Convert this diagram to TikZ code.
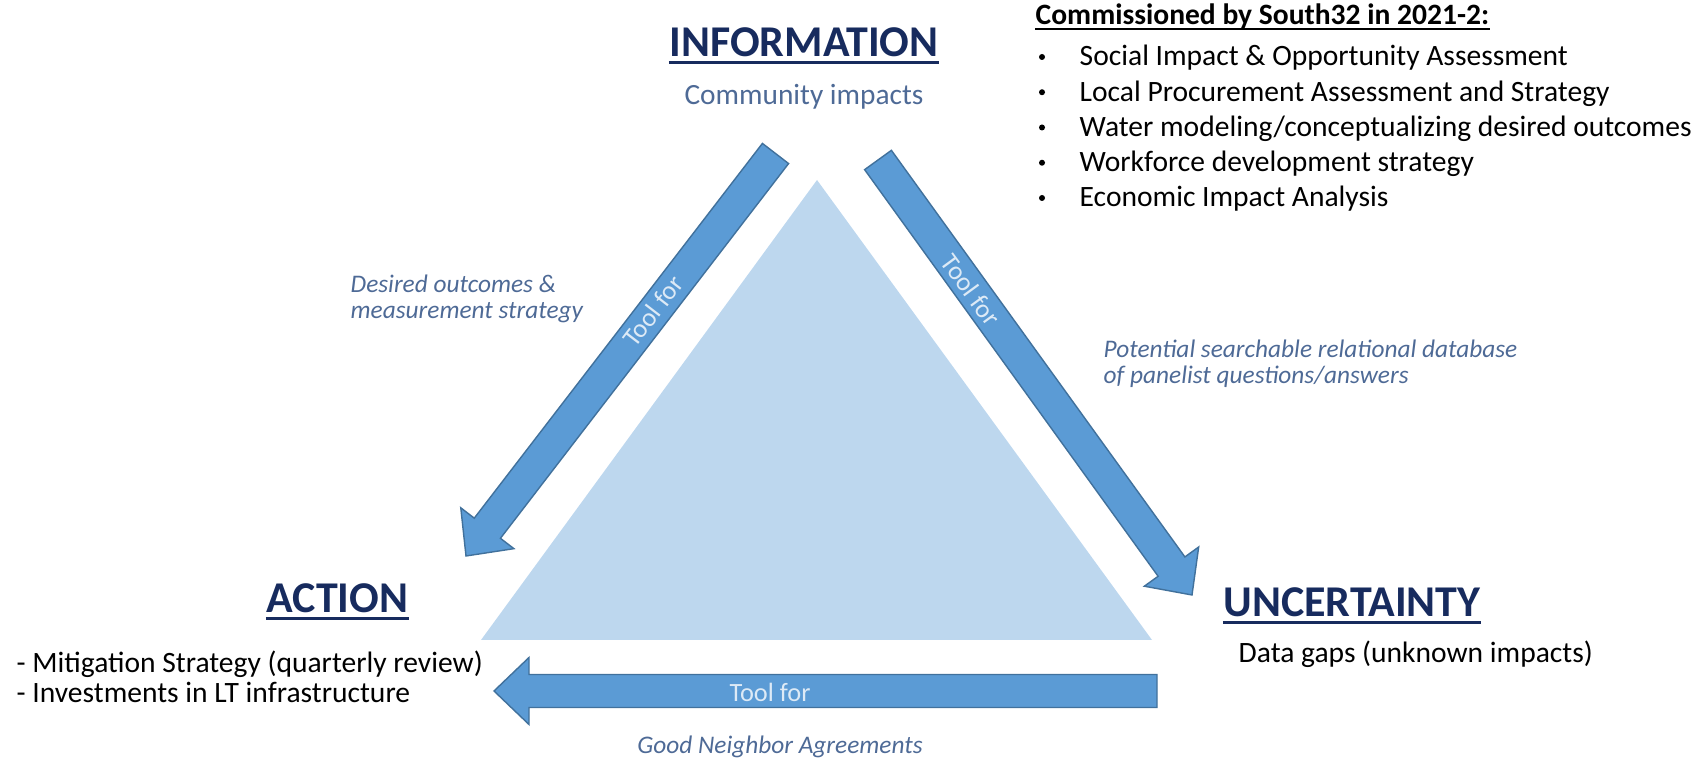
\documentclass[tikz,border=0pt]{standalone}
\usepackage{fontspec}
\setmainfont{Carlito}
\usetikzlibrary{calc}
\definecolor{navy}{HTML}{172B5E}
\definecolor{slate}{HTML}{4E6A96}
\definecolor{arrowblue}{HTML}{5B9BD5}
\definecolor{arrowedge}{HTML}{41719C}
\definecolor{triblue}{HTML}{BDD7EE}
\definecolor{paleblue}{HTML}{DDEAF6}
\tikzset{
  arrowbody/.style={fill=arrowblue, draw=arrowedge, line width=0.4pt},
  heading/.style={font=\fontsize{12.5}{15}\selectfont\bfseries, text=navy,
    anchor=base, inner sep=0pt},
  body/.style={font=\fontsize{8.4}{8.5}\selectfont, inner sep=0pt},
  note/.style={font=\fontsize{7.2}{7.5}\selectfont\itshape, text=slate,
    align=left, inner sep=0pt},
  toolfor/.style={font=\fontsize{7.5}{9}\selectfont, text=paleblue, inner sep=0pt},
  dotmark/.style={circle, fill=black, inner sep=0pt, minimum size=0.06cm}
}
% block arrow from the middle of its tail to its tip
\newcommand{\toolarrow}[2]{%
  \coordinate (#1h) at ($(#2)!\headl!(#1)$);
  \draw[arrowbody]
    ($(#1)!\shaftw!90:(#2)$) -- ($(#1h)!\shaftw!90:(#2)$)
    -- ($(#1h)!\headw!90:(#2)$) -- (#2)
    -- ($(#1h)!\headw!-90:(#2)$) -- ($(#1h)!\shaftw!-90:(#2)$)
    -- ($(#1)!\shaftw!-90:(#2)$) -- cycle;}
\begin{document}
\begin{tikzpicture}[x=0.01cm,y=-0.01cm]
  \useasboundingbox (0,0) rectangle (1706,762);
  \def\shaftw{0.165cm}
  \def\headw{0.335cm}
  \def\headl{0.35cm}
  % triangle
  \coordinate (apex) at (817,180);
  \coordinate (baseL) at (481,640);
  \coordinate (baseR) at (1152,640);
  \fill[triblue] (apex)--(baseL)--(baseR)--cycle;
  % arrows
  \coordinate (infoL) at (775.5,153.5);
  \coordinate (actTip) at (466,556);
  \coordinate (infoR) at (878,160);
  \coordinate (uncTip) at (1192,595);
  \coordinate (uncB) at (1157,691);
  \coordinate (actB) at (494,691);
  \toolarrow{infoL}{actTip}
  \toolarrow{infoR}{uncTip}
  \toolarrow{uncB}{actB}
  \node[toolfor, rotate=52.4] (toolL) at (653,311) {Tool for};
  \node[toolfor, rotate=-53.8] (toolR) at (971,290) {Tool for};
  \node[toolfor] (toolB) at (770,692) {Tool for};
  % corners
  \node[heading] (info) at (804,57) {INFORMATION};
  \node[font=\fontsize{8.35}{10}\selectfont, text=slate, anchor=base,
    inner sep=0pt] (community) at (804,105) {Community impacts};
  \node[heading] (action) at (337.5,613) {ACTION};
  \node[body, align=left, anchor=north west] (actlist) at (16,650)
    {- Mitigation Strategy (quarterly review)\\- Investments in LT infrastructure};
  \node[heading] (uncert) at (1352,617) {UNCERTAINTY};
  \node[body, anchor=base west] (gaps) at (1238,663) {Data gaps (unknown impacts)};
  \foreach \h in {info,action,uncert}
    \draw[navy, line width=0.8pt] ([yshift=-1.5pt]\h.base west)--([yshift=-1.5pt]\h.base east);
  % side notes
  \node[note, anchor=north west] (desired) at (350,274)
    {Desired outcomes \&\\measurement strategy};
  \node[note, anchor=north west] (potential) at (1103,339)
    {Potential searchable relational database\\of panelist questions/answers};
  \node[note, anchor=base] (neighbor) at (780,754) {Good Neighbor Agreements};
  % commissioned studies
  \node[body, font=\fontsize{8.4}{10}\selectfont\bfseries, anchor=base west]
    (header) at (1035,25) {Commissioned by South32 in 2021-2:};
  \draw[line width=0.55pt] ([yshift=-1.2pt]header.base west)--([yshift=-1.2pt]header.base east);
  \foreach \txt [count=\i] in {Social Impact \& Opportunity Assessment,
      Local Procurement Assessment and Strategy,
      Water modeling/conceptualizing desired outcomes,
      Workforce development strategy, Economic Impact Analysis}{
    \node[dotmark] (dot\i) at (1042,{57+35.25*(\i-1)}) {};
    \node[body, anchor=base west] (item\i) at (1079,{66+35.25*(\i-1)}) {\txt};
  }
\end{tikzpicture}
\end{document}
